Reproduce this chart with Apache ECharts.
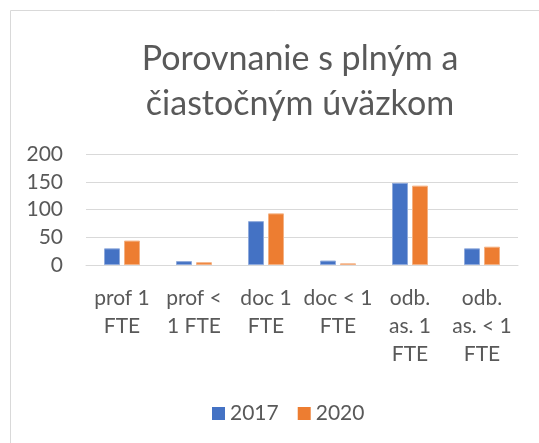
<!DOCTYPE html>
<html>
<head>
<meta charset="utf-8">
<script src="https://cdn.jsdelivr.net/npm/echarts@6/dist/echarts.min.js"></script>
<style>
  html, body { margin: 0; padding: 0; background: #fff; }
  #chart { width: 539px; height: 443px; }
</style>
</head>
<body>
<div id="chart"></div>
<script>
var categories = ["prof 1\nFTE", "prof <\n1 FTE", "doc 1\nFTE", "doc < 1\nFTE", "odb.\nas. 1\nFTE", "odb.\nas. < 1\nFTE"];
var values2017 = [30, 7, 79, 8, 148, 30];
var values2020 = [44, 5, 93, 3, 143, 33];
var yTicks = [0, 50, 100, 150, 200];

var font = "Lato";
var textColor = "#595959";

var chart = echarts.init(document.getElementById("chart"));

chart.setOption({
    animation: false,
    textStyle: { fontFamily: font },
    title: {
        text: "Porovnanie s plným a\nčiastočným úväzkom",
        left: 295,
        top: 32,
        textAlign: "center",
        textStyle: { fontFamily: font, fontSize: 34, fontWeight: "normal", color: textColor, lineHeight: 45 }
    },
    graphic: [{
        type: "rect",
        silent: true,
        shape: { x: 10.5, y: 10.5, width: 700, height: 700 },
        style: { fill: "none", stroke: "#d9d9d9", lineWidth: 1 }
    }],
    legend: {
        left: 207,
        top: 398,
        itemWidth: 13,
        itemHeight: 13,
        itemGap: 19,
        icon: "rect",
        itemStyle: { borderWidth: 0 },
        textStyle: { fontFamily: font, fontSize: 21, color: textColor },
        data: ["2017", "2020"]
    },
    grid: { left: 86, right: 21, top: 154, bottom: 178 },
    xAxis: {
        type: "category",
        data: categories,
        axisLine: { lineStyle: { color: "#d9d9d9", width: 1 } },
        axisTick: { show: false },
        axisLabel: { color: textColor, fontSize: 21, lineHeight: 28, margin: 19, interval: 0 }
    },
    yAxis: {
        type: "value",
        min: yTicks[0],
        max: yTicks[yTicks.length - 1],
        interval: 50,
        axisLine: { show: false },
        axisTick: { show: false },
        splitLine: { lineStyle: { color: "#d9d9d9", width: 1 } },
        axisLabel: { color: textColor, fontSize: 21, margin: 23 }
    },
    series: [{
        name: "2017",
        type: "bar",
        data: values2017,
        barGap: "25%",
        barCategoryGap: "50%",
        itemStyle: { color: "#4472C4", borderColor: "#8faadc", borderWidth: 1 }
    }, {
        name: "2020",
        type: "bar",
        data: values2020,
        itemStyle: { color: "#ED7D31", borderColor: "#f4b183", borderWidth: 1 }
    }]
});
</script>
</body>
</html>
